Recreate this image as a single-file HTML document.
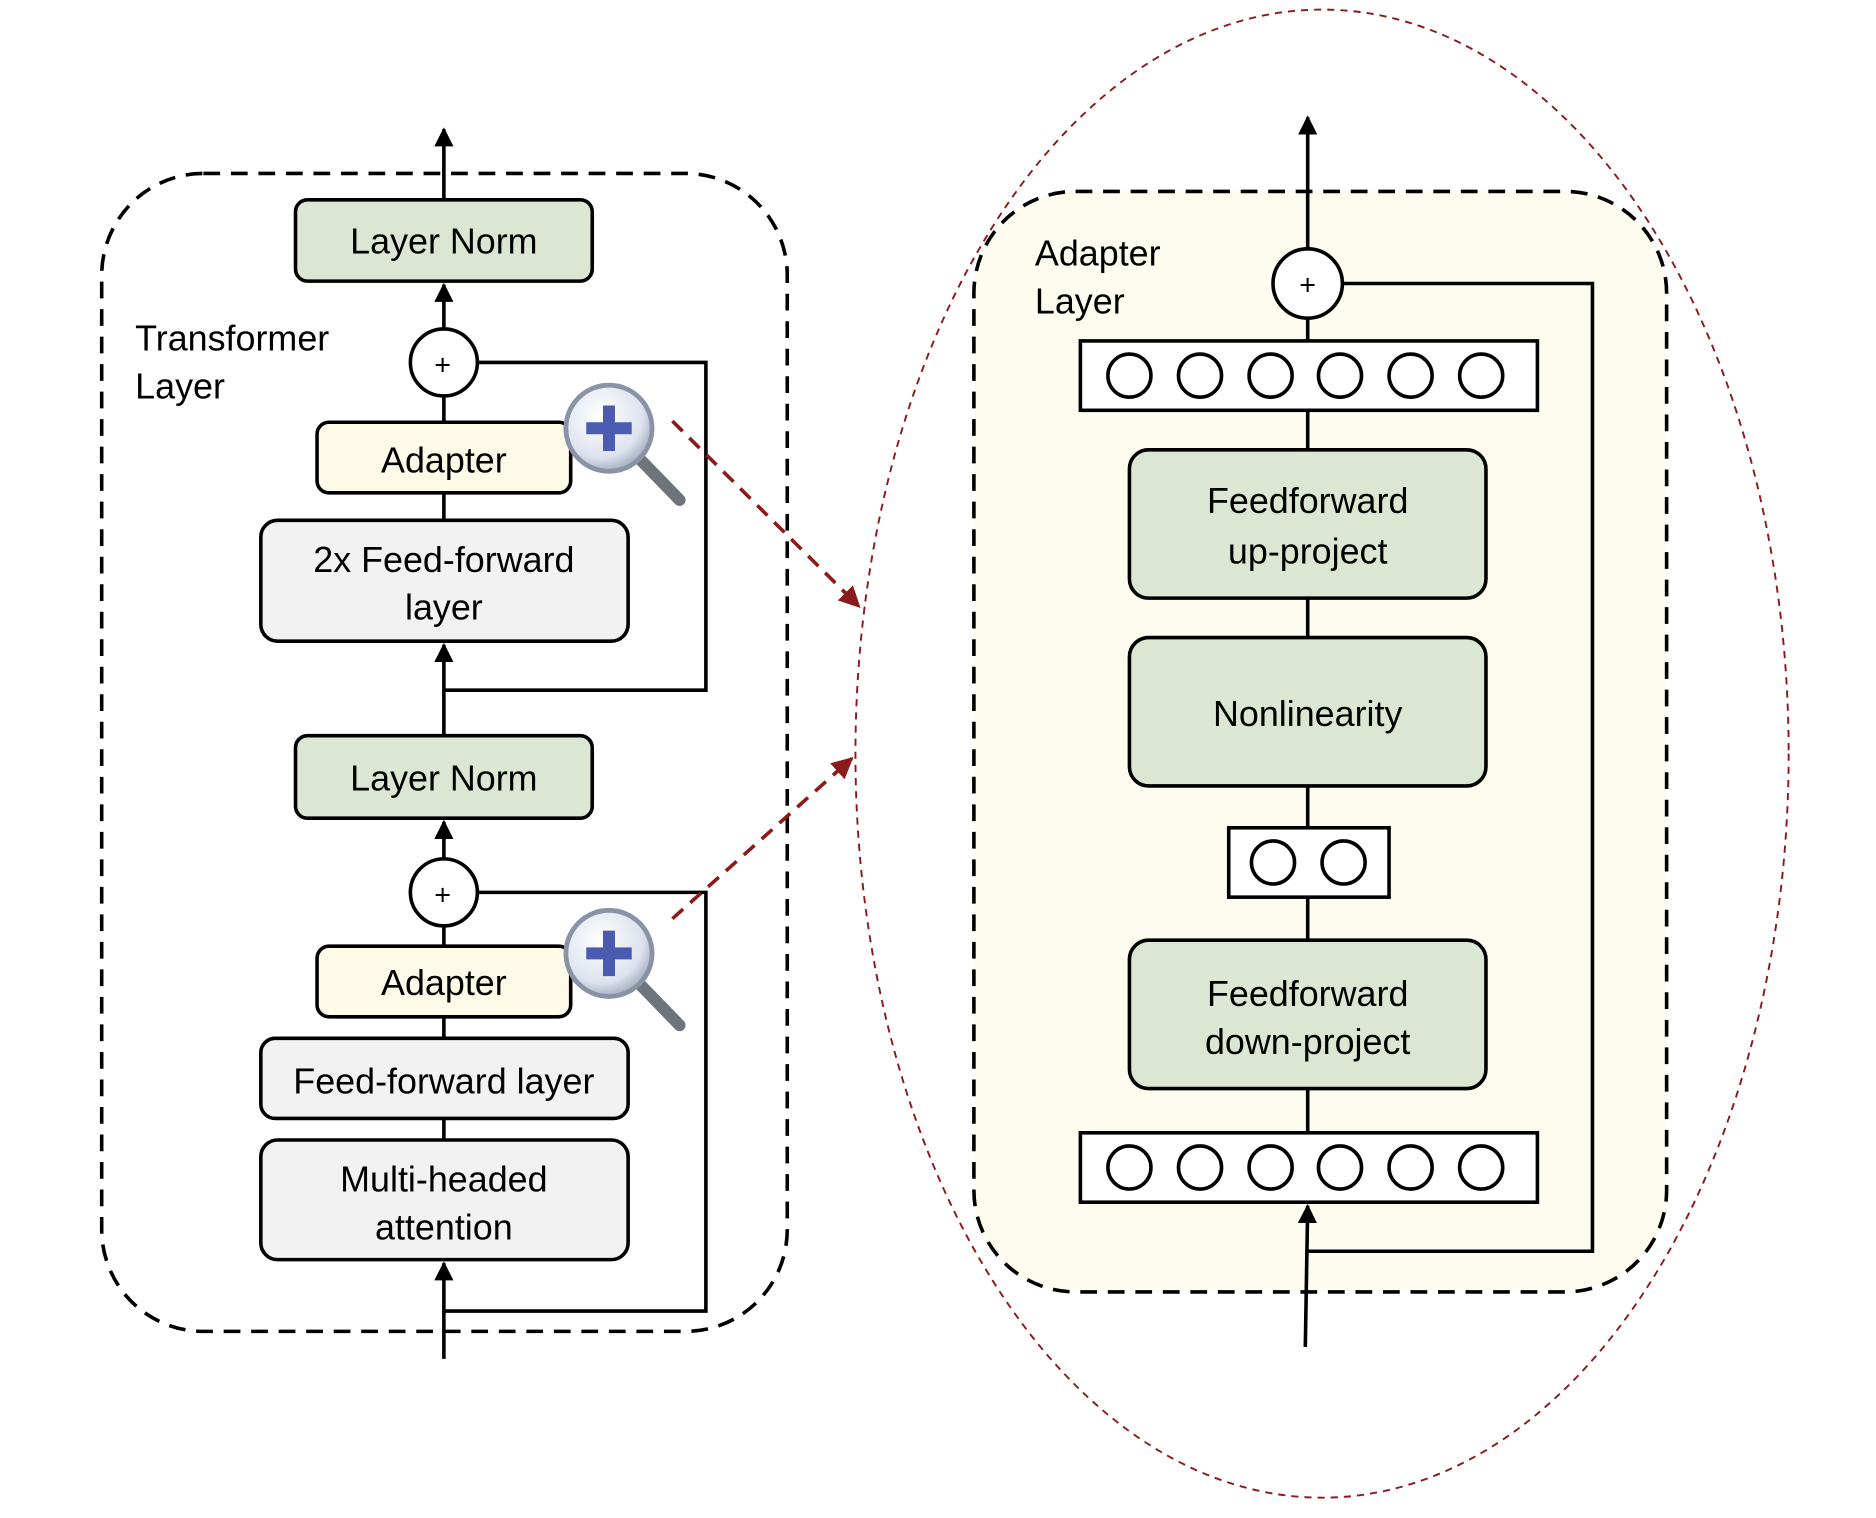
<!DOCTYPE html>
<html><head><meta charset="utf-8"><style>html,body{margin:0;padding:0;background:#fff}svg{display:block}</style></head>
<body>
<svg width="1876" height="1518" viewBox="0 0 1568 1269" preserveAspectRatio="none" xmlns="http://www.w3.org/2000/svg" font-family="Liberation Sans, sans-serif" font-size="30">
<defs>
<marker id="ar" markerWidth="10" markerHeight="10" refX="8" refY="5" orient="auto" markerUnits="userSpaceOnUse"><path d="M0,0 L10,5 L0,10 z" fill="#000"/></marker>
<marker id="ab" viewBox="0 0 10 10" markerWidth="16" markerHeight="22" refX="9" refY="5" orient="auto" markerUnits="userSpaceOnUse"><path d="M0,0 L10,5 L0,10 z" fill="#000"/></marker>
<marker id="rr" viewBox="0 0 10 10" markerWidth="18" markerHeight="18" refX="9" refY="5" orient="auto" markerUnits="userSpaceOnUse"><path d="M0,0 L10,5 L0,10 z" fill="#8b1a1a"/></marker>
<radialGradient id="mg" cx="0.4" cy="0.35" r="0.7"><stop offset="0" stop-color="#ffffff"/><stop offset="0.7" stop-color="#dde3ee"/><stop offset="1" stop-color="#9aa4b8"/></radialGradient>
</defs>

<!-- big ellipse -->
<ellipse cx="1105" cy="630" rx="390" ry="622" fill="none" stroke="#8b1a1a" stroke-width="1.6" stroke-dasharray="6,5"/>

<!-- left panel -->
<rect x="85" y="145" width="573" height="968" rx="85" fill="none" stroke="#000" stroke-width="3" stroke-dasharray="14,9"/>
<text x="113" y="293">Transformer</text>
<text x="113" y="333">Layer</text>

<g stroke="#000" stroke-width="3" fill="none">
<line x1="371" y1="167" x2="371" y2="108" marker-end="url(#ab)"/>
<line x1="371" y1="275" x2="371" y2="238" marker-end="url(#ab)"/>
<line x1="371" y1="353" x2="371" y2="331"/>
<line x1="371" y1="435" x2="371" y2="412"/>
<line x1="371" y1="615" x2="371" y2="539" marker-end="url(#ab)"/>
<polyline points="399,303 590,303 590,577 371,577"/>
<line x1="371" y1="718" x2="371" y2="687" marker-end="url(#ab)"/>
<line x1="371" y1="791" x2="371" y2="774"/>
<line x1="371" y1="868" x2="371" y2="850"/>
<line x1="371" y1="953" x2="371" y2="935"/>
<polyline points="399,746 590,746 590,1096 371,1096"/>
<line x1="371" y1="1136" x2="371" y2="1056" marker-end="url(#ab)"/>
</g>

<g stroke="#000" stroke-width="3">
<rect x="247" y="167" width="248" height="68" rx="10" fill="#dbe7d3"/>
<rect x="265" y="353" width="212" height="59" rx="10" fill="#fdfbe8"/>
<rect x="218" y="435" width="307" height="101" rx="14" fill="#f2f2f2"/>
<rect x="247" y="615" width="248" height="69" rx="10" fill="#dbe7d3"/>
<rect x="265" y="791" width="212" height="59" rx="10" fill="#fdfbe8"/>
<rect x="218" y="868" width="307" height="67" rx="12" fill="#f2f2f2"/>
<rect x="218" y="953" width="307" height="100" rx="14" fill="#f2f2f2"/>
<circle cx="371" cy="303" r="28" fill="#fff"/>
<circle cx="371" cy="746" r="28" fill="#fff"/>
</g>
<g text-anchor="middle">
<text x="371" y="212">Layer Norm</text>
<text x="371" y="395">Adapter</text>
<text x="371" y="478">2x Feed-forward</text>
<text x="371" y="518">layer</text>
<text x="371" y="661">Layer Norm</text>
<text x="371" y="832">Adapter</text>
<text x="371" y="914">Feed-forward layer</text>
<text x="371" y="996">Multi-headed</text>
<text x="371" y="1036">attention</text>
<text x="370" y="313" font-size="24">+</text>
<text x="370" y="756" font-size="24">+</text>
</g>

<!-- magnifiers -->
<g>
<line x1="535" y1="384" x2="568" y2="418" stroke="#6f747c" stroke-width="10" stroke-linecap="round"/>
<circle cx="509" cy="358" r="36" fill="url(#mg)" stroke="#8a93a5" stroke-width="4"/>
<rect x="490" y="353" width="38" height="10" fill="#4a5bb0"/><rect x="504" y="339" width="10" height="38" fill="#4a5bb0"/>
<line x1="535" y1="823" x2="568" y2="857" stroke="#6f747c" stroke-width="10" stroke-linecap="round"/>
<circle cx="509" cy="797" r="36" fill="url(#mg)" stroke="#8a93a5" stroke-width="4"/>
<rect x="490" y="792" width="38" height="10" fill="#4a5bb0"/><rect x="504" y="778" width="10" height="38" fill="#4a5bb0"/>
</g>

<!-- red arrows -->
<line x1="562" y1="352" x2="718" y2="507" stroke="#8b1a1a" stroke-width="3" stroke-dasharray="12,8" marker-end="url(#rr)"/>
<line x1="562" y1="768" x2="712" y2="634" stroke="#8b1a1a" stroke-width="3" stroke-dasharray="12,8" marker-end="url(#rr)"/>

<!-- right panel -->
<rect x="814" y="160" width="579" height="920" rx="85" fill="#fdfcee" stroke="#000" stroke-width="3" stroke-dasharray="14,9"/>
<text x="865" y="222">Adapter</text>
<text x="865" y="262">Layer</text>
<g stroke="#000" stroke-width="3" fill="none">
<line x1="1093" y1="208" x2="1093" y2="98" marker-end="url(#ab)"/>
<polyline points="1122,237 1331,237 1331,1046 1093,1046"/>
<line x1="1093" y1="266" x2="1093" y2="285"/>
<line x1="1093" y1="343" x2="1093" y2="376"/>
<line x1="1093" y1="500" x2="1093" y2="533"/>
<line x1="1093" y1="657" x2="1093" y2="692"/>
<line x1="1093" y1="750" x2="1093" y2="786"/>
<line x1="1093" y1="910" x2="1093" y2="947"/>
<line x1="1091" y1="1126" x2="1093" y2="1008" marker-end="url(#ab)"/>
</g>
<g stroke="#000" stroke-width="3">
<circle cx="1093" cy="237" r="29" fill="#fff"/>
<rect x="903" y="285" width="382" height="58" fill="#fff"/>
<rect x="944" y="376" width="298" height="124" rx="16" fill="#dbe7d3"/>
<rect x="944" y="533" width="298" height="124" rx="16" fill="#dbe7d3"/>
<rect x="1027" y="692" width="134" height="58" fill="#fff"/>
<rect x="944" y="786" width="298" height="124" rx="16" fill="#dbe7d3"/>
<rect x="903" y="947" width="382" height="58" fill="#fff"/>
<g fill="#fff">
<circle cx="944" cy="314" r="18"/><circle cx="1003" cy="314" r="18"/><circle cx="1062" cy="314" r="18"/><circle cx="1120" cy="314" r="18"/><circle cx="1179" cy="314" r="18"/><circle cx="1238" cy="314" r="18"/>
<circle cx="1064" cy="721" r="18"/><circle cx="1123" cy="721" r="18"/>
<circle cx="944" cy="976" r="18"/><circle cx="1003" cy="976" r="18"/><circle cx="1062" cy="976" r="18"/><circle cx="1120" cy="976" r="18"/><circle cx="1179" cy="976" r="18"/><circle cx="1238" cy="976" r="18"/>
</g>
</g>
<g text-anchor="middle">
<text x="1093" y="246" font-size="24">+</text>
<text x="1093" y="429">Feedforward</text>
<text x="1093" y="471">up-project</text>
<text x="1093" y="607">Nonlinearity</text>
<text x="1093" y="841">Feedforward</text>
<text x="1093" y="881">down-project</text>
</g>
</svg>
</body></html>
